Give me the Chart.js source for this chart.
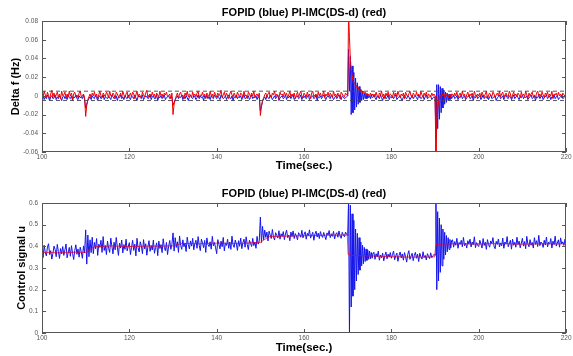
<!DOCTYPE html>
<html>
<head>
<meta charset="utf-8">
<script src="https://cdn.jsdelivr.net/npm/chart.js@4.4.1/dist/chart.umd.min.js"></script>
<style>
  html, body { margin: 0; padding: 0; background: #fff; }
  #wrap { width: 573px; height: 356px; }
  canvas { display: block; }
</style>
</head>
<body>
<div id="wrap">
  <canvas id="freqChart" width="573" height="178"></canvas>
  <canvas id="ctrlChart" width="573" height="178"></canvas>
</div>
<script>
const timeRange = [100, 220];
const timeTicks = [100, 120, 140, 160, 180, 200, 220];
const dfTicks = [-0.06, -0.04, -0.02, 0, 0.02, 0.04, 0.06, 0.08];
const uTicks = [0, 0.1, 0.2, 0.3, 0.4, 0.5, 0.6];
const dfBand = [-0.005, 0.005];

// Delta f in units of 0.001 Hz, sampled every 0.25 s
// A: 100 - 169.75 s, B: 176 - 189.75 s, C: 194 - 220 s
const dfBlueA = [
  -2,0,-4,-1,-3,1,-2,-5,-1,0,-3,-2,1,-4,-1,-3,0,-2,-5,-1,
  0,-3,-1,-4,1,-2,-3,0,-5,-1,-2,1,-3,-4,0,-2,-1,-3,1,-4,
  -13,-9,-5,-3,-1,-4,0,-2,-3,1,-2,-5,-1,0,-3,-2,1,-4,-1,-2,
  -3,0,-2,-4,1,-1,-3,-2,0,-5,-1,-2,1,-3,-1,-4,0,-2,-3,1,
  -2,-4,0,-1,-3,1,-2,-5,-1,0,-2,-3,1,-4,-2,0,-1,-3,-2,1,
  -4,-1,0,-3,-2,1,-5,-1,-2,0,-3,-1,1,-4,-2,-1,0,-3,-2,-1,
  -10,-7,-4,-2,0,-3,-1,-2,1,-4,-1,-3,0,-2,-5,-1,1,-2,-3,0,
  -1,-4,-2,1,-3,0,-2,-1,-5,0,-2,1,-3,-1,-4,0,-2,-3,1,-1,
  -3,0,-2,-4,1,-1,-3,-2,0,-4,-1,1,-2,-3,0,-5,-1,-2,1,-3,
  -1,-2,0,-4,-1,1,-3,-2,-1,0,-4,-2,1,-3,-1,-2,0,-4,-1,-2,
  -16,-11,-6,-3,-1,-4,0,-2,-3,1,-1,-4,-2,0,-3,-1,1,-5,-2,-1,
  0,-3,-2,1,-4,-1,-2,0,-3,-1,1,-4,-2,-1,0,-3,-2,1,-4,-1,
  -2,0,-3,-1,1,-4,-2,-1,0,-3,-2,1,-5,-1,-2,0,-3,-1,1,-2,
  -4,-1,0,-2,-3,1,-1,-4,-2,0,-3,-1,1,-2,-4,0,-1,-3,-2,-1
];
const dfBlueB = [
  1,-2,-4,0,-1,-3,1,-2,-5,-1,0,-3,-2,1,-4,-1,
  -2,0,-3,-1,1,-4,-2,-1,0,-3,-5,-1,1,-2,-3,0,-1,-4,-2,1,
  -3,-1,0,-2,-4,1,-1,-3,-2,0,-4,-1,1,-3,-2,-1,0,-4,-2,-1
];
const dfBlueC = [
  -1,1,-3,-2,0,-4,-1,-2,1,-3,-1,0,-4,-2,-1,1,-3,-2,0,-5,-1,-2,1,-3,
  -1,0,-4,-2,1,-3,-1,-2,0,-4,-1,1,-3,-2,-1,0,-5,-2,-1,1,
  -3,-2,0,-4,-1,1,-2,-3,0,-1,-4,-2,1,-3,-1,0,-2,-4,-1,-2,
  1,-3,-1,-2,0,-4,-2,-1,1,-3,-2,0,-5,-1,-2,1,-3,-1,0,-4,
  -2,-1,1,-3,-2,0,-4,-1,-2,1,-3,-1,0,-4,-2,-1,1,-3,-2,0,
  -1
];
const dfRedA = [
  3,-1,5,1,-2,4,0,-3,2,6,-1,3,-2,1,4,-1,2,-3,5,0,
  1,4,-2,2,-1,5,0,3,-3,2,4,-1,1,-2,3,5,-1,0,2,-2,
  -22,-10,-4,-1,2,-2,3,0,4,-1,2,-3,1,5,0,-2,3,1,-1,4,
  2,-2,5,0,-1,3,1,-3,4,2,-1,0,3,-2,5,1,-1,2,4,-2,
  0,3,-1,4,2,-3,1,5,-1,2,0,-2,4,1,-1,3,6,-2,1,2,
  -1,4,0,2,-3,3,1,-1,5,0,2,-2,3,1,4,-1,0,2,-3,3,
  -20,-9,-4,0,3,-2,2,4,-1,1,-3,3,0,5,-1,2,1,-2,4,0,
  2,-1,3,5,-2,1,0,4,-1,2,-3,3,1,-1,5,0,2,-2,4,1,
  -1,3,0,2,6,-2,1,4,-1,3,0,-3,2,5,1,-1,3,0,-2,4,
  1,-1,3,2,-2,5,0,1,-3,4,2,-1,3,0,5,-2,1,2,-1,3,
  -21,-11,-5,-2,1,3,-1,2,4,0,-2,3,1,5,-1,2,0,-3,4,1,
  2,-1,4,0,3,-2,1,5,-1,2,0,3,-3,1,4,-1,2,5,0,-2,
  3,1,-1,4,0,2,-3,3,5,-1,1,2,-2,4,0,3,-1,1,5,-2,
  2,0,4,-1,3,1,-2,5,0,2,-1,3,1,-3,4,2,0,-1,3,1
];
const dfRedB = [
  2,-1,4,0,-2,3,1,5,-1,2,-3,3,0,4,-1,2,
  1,-2,4,0,3,-1,5,1,-2,2,0,3,-3,4,1,-1,2,5,0,-2,
  3,1,-1,4,0,2,-2,5,1,-1,3,0,4,-2,2,1,-1,3,0,2
];
const dfRedC = [
  2,-1,3,0,4,-2,1,3,-1,5,0,2,-3,1,4,-1,2,0,3,-2,5,1,-1,2,
  0,3,-2,4,1,-1,2,5,-3,1,3,0,-1,4,2,-2,1,3,0,5,
  -1,2,4,-2,1,3,0,-1,5,2,-3,1,4,0,2,-1,3,1,-2,4,
  0,2,-1,5,1,-3,3,0,2,4,-1,1,-2,3,5,0,2,-1,4,1,
  -2,3,1,4,-1,2,0,5,-3,2,1,3,-1,4,0,2,-2,3,1,0,
  2
];
// load-step bursts, every 0.2 s from 170 s and from 190 s
const dfBlue170 = [0,50,5,42,-20,32,-18,25,-15,19,-12,14,-9,10,-7,7,-5,5,-4,3,-3,2,-3,1,-2,0,-3,1,-2,-1];
const dfRed170 = [0,90,62,40,28,21,17,13,14,10,11,8,9,6,7,4,6,3,5,2,4,1,3,0,2,-1,3,1,2,0];
const dfBlue190 = [-2,-45,12,-35,12,-25,10,-18,8,-13,6,-9,4,-7,3,-5,2,-4,1,-3];
const dfRed190 = [0,-65,-30,-14,-6,-2,1,-1,2,0,3,-1,2,0,3,-2,1,2,-1,2];

// control signal u in units of 0.001, same sampling
const uBlueA = [
  392,348,405,371,356,398,412,362,380,341,367,401,386,352,409,376,344,390,365,399,
  358,384,411,347,372,395,354,403,368,339,381,407,363,388,350,396,373,345,402,370,
  476,318,452,352,430,371,442,366,418,389,436,358,410,395,428,372,445,381,404,362,
  424,390,372,438,401,365,419,384,441,397,358,415,392,429,370,408,386,433,379,400,
  417,362,395,428,381,410,356,437,393,374,421,402,366,431,388,412,359,398,426,377,
  404,383,429,368,395,416,357,424,390,408,371,435,396,380,418,362,401,427,386,410,
  462,378,440,395,421,372,448,404,386,430,398,415,376,442,409,388,425,401,437,384,
  412,428,391,445,405,380,433,416,394,427,372,439,408,399,421,387,446,402,418,393,
  366,431,410,388,424,398,441,379,416,404,433,391,420,386,447,407,395,429,412,381,
  426,400,438,389,417,433,396,444,408,385,428,414,399,437,403,420,391,446,410,425,
  535,418,492,430,475,441,466,425,470,452,436,478,444,429,463,450,438,472,433,458,
  446,468,431,457,475,440,452,426,466,445,471,436,459,448,430,463,454,442,474,439,
  455,467,433,460,449,476,438,452,465,428,457,470,443,461,436,468,450,441,464,447,
  431,462,452,473,440,458,446,469,434,456,463,442,471,448,437,465,453,444,466,455
];
const uBlueB = [
  372,340,366,351,378,336,360,347,369,333,357,374,342,364,350,371,
  345,362,378,338,356,369,331,358,374,347,365,336,371,352,327,363,380,340,355,368,
  334,359,372,345,364,330,368,352,341,375,349,358,337,366,354,343,370,348,357,362
];
const uBlueC = [
  430,396,422,405,437,391,418,409,428,398,441,403,415,392,426,410,433,397,420,407,444,394,417,405,
  399,428,411,392,436,404,419,386,431,408,396,425,413,440,401,389,423,409,434,397,
  416,402,438,391,420,410,445,398,412,428,387,433,405,419,396,442,408,424,393,415,
  437,401,422,389,446,411,398,431,405,418,392,440,409,426,399,451,403,420,414,395,
  428,406,443,397,419,410,436,392,424,408,447,401,415,430,396,439,411,421,404,433,
  412
];
const uBlue170 = [450,620,-20,590,120,550,170,520,200,480,240,460,270,440,290,420,310,405,320,395,330,388,335,382,340,378,342,372,345,370];
const uBlue190 = [360,620,200,560,240,530,280,500,310,480,340,465,360,450,375,440,385,432,392,428];
const uRedTime = [100,104,108,110,111,112,116,120,125,130,131,132,136,140,145,150,151,152,156,160,165,169.9,170.1,171,175,180,185,189.9,190.2,191,195,200,205,210,215,220];
const uRed = [372,370,373,371,385,398,402,399,401,402,408,414,412,415,413,418,432,445,447,449,451,452,362,358,356,352,350,351,408,410,412,411,413,410,412,411];

function sampled(t0, dt, vals, unit) {
  return vals.map((v, i) => ({ x: +(t0 + i * dt).toFixed(2), y: v * unit }));
}
function joined(...parts) {
  return [].concat(...parts).sort((a, b) => a.x - b.x);
}
function series(a, b, c, burst170, burst190) {
  return joined(sampled(100, 0.25, a, 0.001), sampled(176, 0.25, b, 0.001), sampled(194, 0.25, c, 0.001),
    sampled(170, 0.2, burst170, 0.001), sampled(190, 0.2, burst190, 0.001));
}

const blue = 'rgb(20,20,235)';
const red = 'rgb(240,0,0)';
const labelFont = { family: 'Liberation Sans', size: 11, weight: 'bold', lineHeight: 1.2 };
const tickFont = { family: 'Liberation Sans', size: 6.5, lineHeight: 1.2 };

// MATLAB style box with inward ticks on all sides
const boxTicks = {
  id: 'boxTicks',
  afterDatasetsDraw(chart) {
    const { ctx, chartArea: a, scales: { x, y } } = chart;
    const len = 4;
    ctx.save();
    ctx.strokeStyle = '#555';
    ctx.lineWidth = 1;
    ctx.beginPath();
    x.ticks.forEach(t => {
      const px = Math.round(x.getPixelForValue(t.value)) + 0.5;
      ctx.moveTo(px, a.bottom); ctx.lineTo(px, a.bottom - len);
      ctx.moveTo(px, a.top); ctx.lineTo(px, a.top + len);
    });
    y.ticks.forEach(t => {
      const py = Math.round(y.getPixelForValue(t.value)) + 0.5;
      ctx.moveTo(a.left, py); ctx.lineTo(a.left + len, py);
      ctx.moveTo(a.right, py); ctx.lineTo(a.right - len, py);
    });
    ctx.stroke();
    ctx.strokeRect(Math.round(a.left) + 0.5, Math.round(a.top) + 0.5,
      Math.round(a.right - a.left) - 1, Math.round(a.bottom - a.top) - 1);
    ctx.restore();
  }
};

function makeChart(id, o) {
  return new Chart(document.getElementById(id), {
    type: 'line',
    data: { datasets: o.datasets },
    plugins: [boxTicks],
    options: {
      responsive: false,
      animation: false,
      devicePixelRatio: 1,
      layout: { padding: { left: 0, right: 5, top: 0, bottom: 0 } },
      elements: { point: { radius: 0 }, line: { borderWidth: 1, tension: 0 } },
      plugins: {
        legend: { display: false },
        tooltip: { enabled: false },
        title: {
          display: true,
          fullSize: false,
          text: 'FOPID (blue) PI-IMC(DS-d) (red)',
          color: '#000',
          font: labelFont,
          padding: o.titlePad
        }
      },
      scales: {
        x: {
          type: 'linear',
          min: timeRange[0], max: timeRange[1],
          afterBuildTicks: s => { s.ticks = timeTicks.map(v => ({ value: v })); },
          afterFit: s => { s.height = o.xHeight; },
          grid: { display: false, drawTicks: false },
          border: { display: false },
          ticks: { color: '#555', font: tickFont, padding: 1.5, maxRotation: 0 },
          title: { display: true, text: 'Time(sec.)', color: '#000',
            font: { family: 'Liberation Sans', size: 11.5, weight: 'bold', lineHeight: 1.2 },
            padding: { top: 0, bottom: o.xTitlePad } }
        },
        y: {
          min: o.yTicks[0], max: o.yTicks[o.yTicks.length - 1],
          afterBuildTicks: s => { s.ticks = o.yTicks.map(v => ({ value: v })); },
          afterFit: s => { s.width = 42; },
          grid: { display: false, drawTicks: false },
          border: { display: false },
          ticks: { color: '#555', font: tickFont, padding: 4,
            callback: v => String(+Number(v).toFixed(2)) },
          title: { display: true, text: o.yTitle, color: '#000', font: labelFont,
            padding: { top: o.yTitlePad, bottom: 0 } }
        }
      }
    }
  });
}

const bandLine = v => timeRange.map(t => ({ x: t, y: v }));

makeChart('freqChart', {
  yTicks: dfTicks,
  yTitle: 'Delta f (Hz)',
  yTitlePad: 9.4,
  xHeight: 26,
  xTitlePad: 5.1,
  titlePad: { top: 6.4, bottom: 1.4 },
  datasets: [
    { data: bandLine(dfBand[1]), borderColor: '#444', borderWidth: 0.9, borderDash: [4, 3] },
    { data: bandLine(dfBand[0]), borderColor: '#444', borderWidth: 0.9, borderDash: [4, 3] },
    { data: series(dfRedA, dfRedB, dfRedC, dfRed170, dfRed190), borderColor: red },
    { data: series(dfBlueA, dfBlueB, dfBlueC, dfBlue170, dfBlue190), borderColor: blue }
  ]
});

makeChart('ctrlChart', {
  yTicks: uTicks,
  yTitle: 'Control signal u',
  yTitlePad: 15,
  xHeight: 23,
  xTitlePad: 1.4,
  titlePad: { top: 9.7, bottom: 2.1 },
  datasets: [
    { data: uRedTime.map((t, i) => ({ x: t, y: uRed[i] * 0.001 })), borderColor: 'rgba(235,0,40,0.75)' },
    { data: series(uBlueA, uBlueB, uBlueC, uBlue170, uBlue190), borderColor: blue }
  ]
});
</script>
</body>
</html>
